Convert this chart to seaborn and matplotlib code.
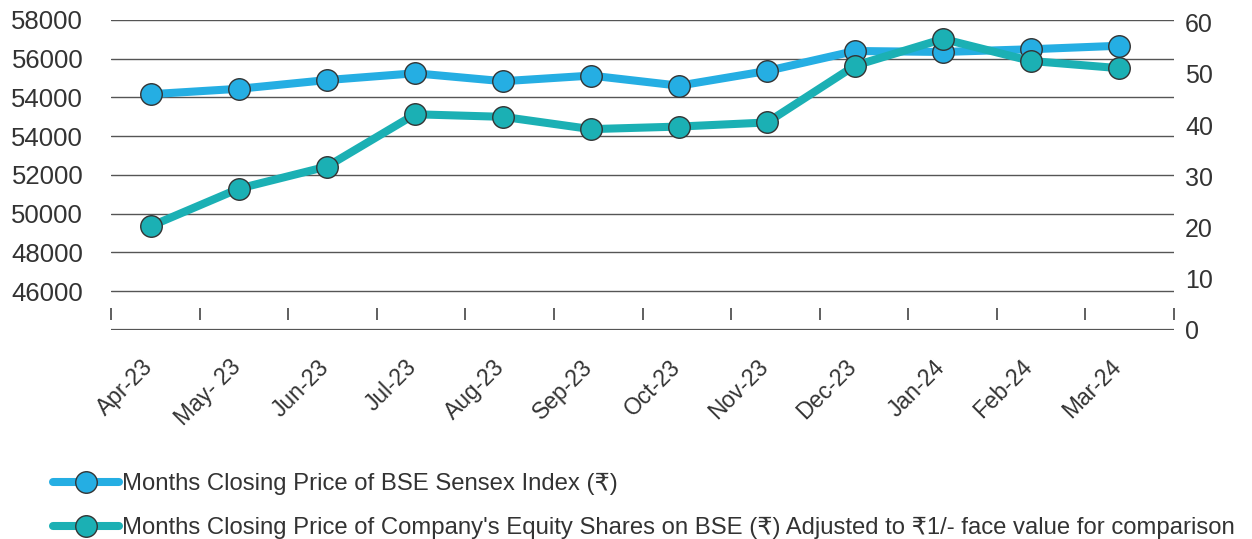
import numpy as np
import pandas as pd
import matplotlib
matplotlib.use('Agg')
import matplotlib.pyplot as plt
import matplotlib.transforms as mtransforms
import seaborn as sns

# Data
months = ['Apr-23', 'May- 23', 'Jun-23', 'Jul-23', 'Aug-23', 'Sep-23',
          'Oct-23', 'Nov-23', 'Dec-23', 'Jan-24', 'Feb-24', 'Mar-24']
sensex = [54170, 54450, 54900, 55250, 54840, 55130,
          54610, 55370, 56400, 56350, 56490, 56670]
company = [20.3, 27.6, 31.9, 42.1, 41.6, 39.2,
           39.7, 40.5, 51.6, 56.8, 52.5, 51.1]

left_ticks = [44000, 46000, 48000, 50000, 52000, 54000, 56000, 58000]
left_labels = ['46000', '48000', '50000', '52000', '54000', '54000', '56000', '58000']
right_ticks = [0, 10, 20, 30, 40, 50, 60]

sensex_label = 'Months Closing Price of BSE Sensex Index (\u20b9)'
company_label = ("Months Closing Price of Company's Equity Shares on BSE (\u20b9) "
                 "Adjusted to \u20b91/- face value for comparison")

df = pd.DataFrame({'x': np.arange(len(months)), 'sensex': sensex, 'company': company})

sns.set_theme(style='white')
plt.rcParams['font.family'] = ['Liberation Sans', 'DejaVu Sans']
text_col = '#333333'
blue = '#25AEE3'
teal = '#1BB0B4'

fig = plt.figure(figsize=(12.52, 5.39), dpi=100)
ax = fig.add_axes([0.0887, 0.3878, 0.849, 0.5751])
ax2 = ax.twinx()

line_kw = dict(marker='o', markersize=15.5, markeredgecolor='#333333',
               markeredgewidth=1.0, linewidth=5.8)
sns.lineplot(data=df, x='x', y='sensex', ax=ax, color=blue,
             markerfacecolor=blue, label=sensex_label, legend=False, **line_kw)
sns.lineplot(data=df, x='x', y='company', ax=ax2, color=teal,
             markerfacecolor=teal, label=company_label, legend=False, **line_kw)

# left axis (gridlines come from it)
ax.set_ylim(42000, 58000)
ax.set_yticks(left_ticks)
ax.set_yticklabels(left_labels)
ax.grid(axis='y', color='#555555', linewidth=1.0)
ax.grid(axis='x', visible=False)
ax.axhline(42000, color='#555555', linewidth=1.6, zorder=0)
ax.tick_params(axis='y', length=0, pad=20, labelsize=18.5, labelcolor=text_col)

# right axis
ax2.set_ylim(0, 60.5)
ax2.set_yticks(right_ticks)
ax2.tick_params(axis='y', length=0, pad=8, labelsize=18, labelcolor=text_col)
ax2.grid(False)
ax2.set_ylabel('')
ax.set_ylabel('')
ax.set_xlabel('')
ax2.set_xlabel('')

# x axis: labels at months, small marks at category boundaries
xmin, xmax = -0.4545, 11.625
ax.set_xlim(xmin, xmax)
ax.set_xticks(df['x'])
ax.set_xticklabels(months)
ax.set_xticks(np.linspace(xmin, xmax, 13), minor=True)
ax.spines['bottom'].set_position(('data', 42516))
ax.tick_params(axis='x', which='major', length=0, pad=22, labelsize=16.5,
               labelcolor=text_col, labelrotation=45)
ax.tick_params(axis='x', which='minor', bottom=True, direction='in', length=8.6,
               width=1.2, color='#444444')
shift = mtransforms.ScaledTranslation(-10 / 100, -5 / 100, fig.dpi_scale_trans)
for lab in ax.get_xticklabels():
    lab.set_ha('right')
    lab.set_va('top')
    lab.set_rotation_mode('anchor')
    lab.set_transform(lab.get_transform() + shift)

for a in (ax, ax2):
    for s in a.spines.values():
        s.set_visible(False)

h1, l1 = ax.get_legend_handles_labels()
h2, l2 = ax2.get_legend_handles_labels()
fig.legend(h1 + h2, l1 + l2, loc='upper left', bbox_to_anchor=(0.042, 0.122),
           frameon=False, fontsize=17.2, handlelength=2.8, handletextpad=0.1,
           labelspacing=0.9, borderpad=0, borderaxespad=0, labelcolor=text_col)

plt.savefig('out.png', dpi=100)
plt.close()
